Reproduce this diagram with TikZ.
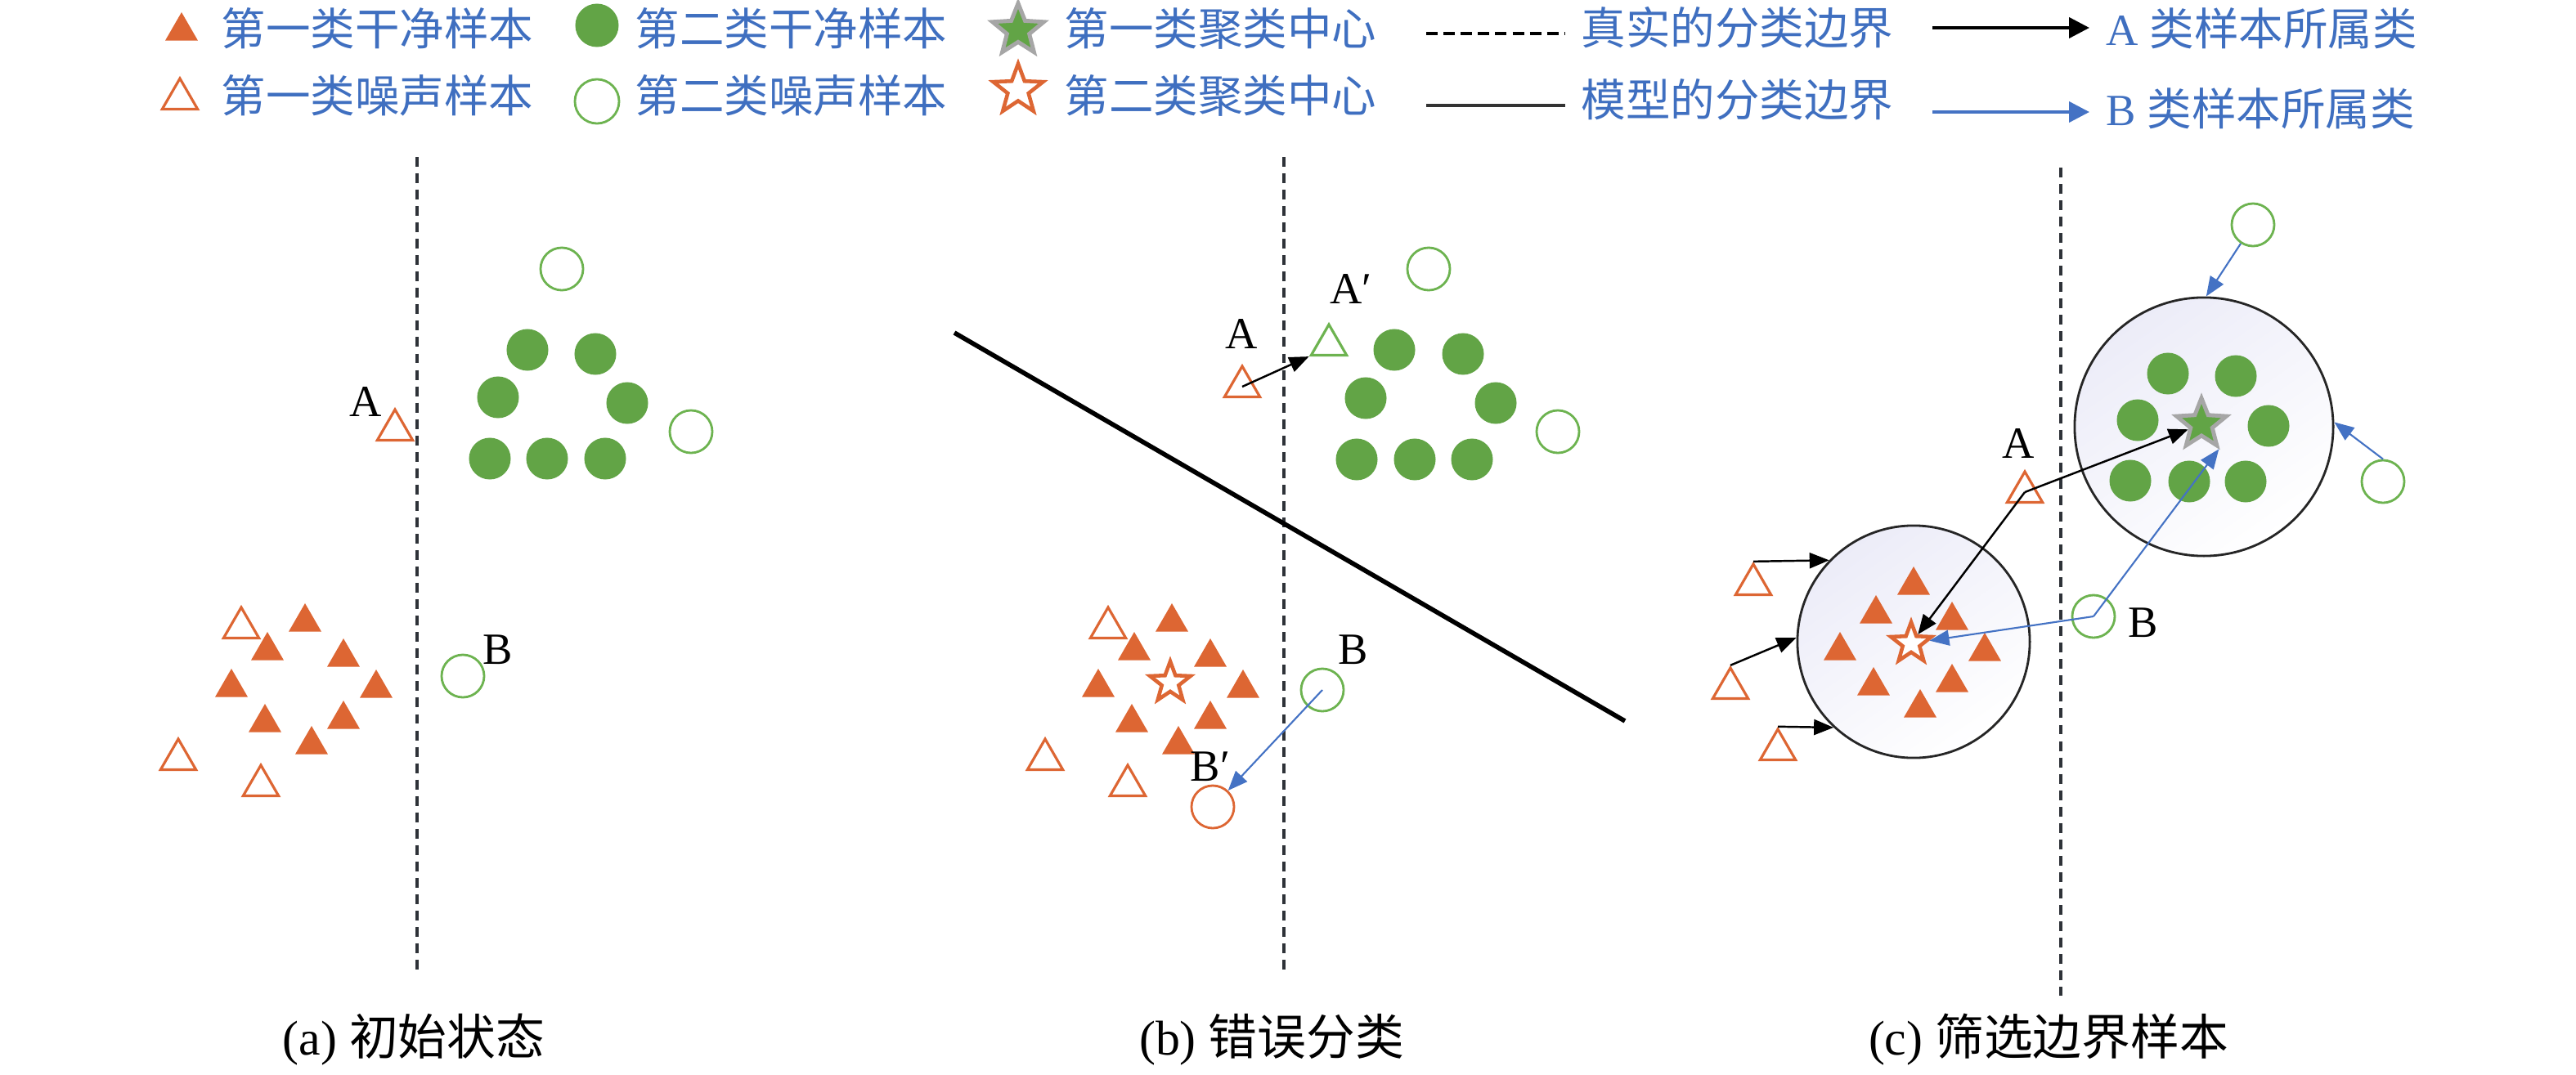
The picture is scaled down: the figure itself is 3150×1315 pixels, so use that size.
\documentclass[tikz,border=0pt]{standalone}
\usepackage{fontspec}
\setmainfont{Liberation Serif}
\newfontfamily\cjk{Noto Sans CJK SC}
\usetikzlibrary{shapes.geometric,arrows.meta}
\definecolor{orng}{HTML}{DD6633}
\definecolor{grn}{HTML}{62A446}
\definecolor{lgrn}{HTML}{6DB350}
\definecolor{bluA}{HTML}{4472C4}
\definecolor{txtblue}{HTML}{3F6FC0}
\definecolor{lav}{HTML}{ECECF8}
\definecolor{dashc}{HTML}{2E3238}
\begin{document}
\begin{tikzpicture}[x=0.01cm,y=-0.01cm,
  cleanA/.style={regular polygon,regular polygon sides=3,fill=orng,draw=none,minimum size=0.46cm,inner sep=0pt},
  noiseA/.style={regular polygon,regular polygon sides=3,draw=orng,fill=white,line width=0.9pt,minimum size=0.5cm,inner sep=0pt},
  noiseAg/.style={noiseA,draw=lgrn},
  cleanB/.style={circle,fill=grn,draw=none,minimum size=0.51cm,inner sep=0pt},
  noiseB/.style={circle,draw=lgrn,fill=white,line width=0.8pt,minimum size=0.52cm,inner sep=0pt},
  noiseBo/.style={noiseB,draw=orng},
  gstar/.style={star,star points=5,star point ratio=2.3,fill=grn,draw=gray!70,line width=1.4pt,minimum size=0.64cm,inner sep=0pt},
  ostar/.style={star,star points=5,star point ratio=2.4,fill=white,draw=orng,line width=1.3pt,minimum size=0.52cm,inner sep=0pt},
  bigc/.style={circle,draw=black!85,line width=0.8pt,top color=lav,bottom color=white,shading angle=35,inner sep=0pt},
  truebd/.style={dashc,line width=1.1pt,dash pattern=on 3.4pt off 2.3pt},
  modelbd/.style={black,line width=1.6pt},
  blkarrow/.style={-{Triangle[length=0.24cm,width=0.19cm]},line width=0.7pt,black},
  bluarrow/.style={-{Triangle[length=0.24cm,width=0.19cm]},line width=0.6pt,bluA},
  lgtext/.style={anchor=west,inner sep=0pt,text=txtblue,font=\fontsize{15.5}{18}\selectfont},
  lbl/.style={inner sep=0pt,font=\fontsize{15.5}{18}\selectfont},
  captext/.style={inner sep=0pt,font=\fontsize{17}{20}\selectfont}]
\useasboundingbox (0,0) rectangle (3150,1315);
\fill[white] (0,0) rectangle (3150,1315);

% ---------------- legend ----------------
\node[cleanA] (lg1) at (222,38) {};
\node[lgtext] (lt1) at (270,35) {\cjk 第一类干净样本};
\node[noiseA] (lg2) at (220,121) {};
\node[lgtext] (lt2) at (270,117) {\cjk 第一类噪声样本};
\node[cleanB,minimum size=0.53cm] (lg3) at (730,31) {};
\node[lgtext] (lt3) at (776,35) {\cjk 第二类干净样本};
\node[noiseB,minimum size=0.54cm] (lg4) at (730,124) {};
\node[lgtext] (lt4) at (776,117) {\cjk 第二类噪声样本};
\node[gstar,minimum size=0.66cm] (lg5) at (1245,37) {};
\node[lgtext] (lt5) at (1301,35) {\cjk 第一类聚类中心};
\node[ostar,minimum size=0.64cm] (lg6) at (1245,110) {};
\node[lgtext] (lt6) at (1301,117) {\cjk 第二类聚类中心};
\coordinate (ld1a) at (1744,41);
\coordinate (ld1b) at (1914,41);
\draw[black,line width=1.1pt,dash pattern=on 4pt off 2pt] (ld1a) -- (ld1b);
\node[lgtext] (lt7) at (1933,34) {\cjk 真实的分类边界};
\coordinate (ld2a) at (1744,129);
\coordinate (ld2b) at (1914,129);
\draw[black!80,line width=1.4pt] (ld2a) -- (ld2b);
\node[lgtext] (lt8) at (1933,122) {\cjk 模型的分类边界};
\coordinate (la1a) at (2363,34);
\coordinate (la1b) at (2555,34);
\draw[-{Triangle[length=0.25cm,width=0.25cm]},line width=1.2pt,black] (la1a) -- (la1b);
\node[lgtext] (lt9) at (2575,35) {A {\cjk 类样本所属类}};
\coordinate (la2a) at (2363,137);
\coordinate (la2b) at (2555,137);
\draw[-{Triangle[length=0.25cm,width=0.25cm]},line width=1.2pt,bluA] (la2a) -- (la2b);
\node[lgtext] (lt10) at (2575,133) {B {\cjk 类样本所属类}};

% ---------------- panel (a) ----------------
\coordinate (aTop) at (510,192);
\coordinate (aBot) at (510,1192);
\draw[truebd] (aTop) -- (aBot);
\node[noiseB] (an1) at (687,329) {};
\node[cleanB] (ac1) at (645,428) {};
\node[cleanB] (ac2) at (728,433) {};
\node[cleanB] (ac3) at (609,486) {};
\node[cleanB] (ac4) at (767,493) {};
\node[cleanB] (ac5) at (599,561) {};
\node[cleanB] (ac6) at (669,561) {};
\node[cleanB] (ac7) at (740,561) {};
\node[noiseB] (an2) at (845,528) {};
\node[noiseA] (aA) at (483,526) {};
\node[lbl] (aAl) at (447,492) {A};
\node[noiseB] (aB) at (566,827) {};
\node[lbl] (aBl) at (609,795) {B};
\node[noiseA] (ao1) at (295,768) {};
\node[noiseA] (ao2) at (218,929) {};
\node[noiseA] (ao3) at (319,961) {};
\node[cleanA] (at1) at (373,761) {};
\node[cleanA] (at2) at (327,796) {};
\node[cleanA] (at3) at (420,804) {};
\node[cleanA] (at4) at (283,841) {};
\node[cleanA] (at5) at (460,842) {};
\node[cleanA] (at6) at (324,884) {};
\node[cleanA] (at7) at (420,880) {};
\node[cleanA] (at8) at (381,911) {};
\node[captext] (capa) at (506,1272) {(a) {\cjk 初始状态}};

% ---------------- panel (b) ----------------
\coordinate (bTop) at (1570,192);
\coordinate (bBot) at (1570,1192);
\draw[truebd] (bTop) -- (bBot);
\coordinate (bl1) at (1167,407);
\coordinate (bl2) at (1987,882);
\draw[modelbd] (bl1) -- (bl2);
\node[noiseB] (bn1) at (1747,329) {};
\node[cleanB] (bc1) at (1705,428) {};
\node[cleanB] (bc2) at (1789,433) {};
\node[cleanB] (bc3) at (1670,487) {};
\node[cleanB] (bc4) at (1829,493) {};
\node[cleanB] (bc5) at (1659,562) {};
\node[cleanB] (bc6) at (1730,562) {};
\node[cleanB] (bc7) at (1800,562) {};
\node[noiseB] (bn2) at (1905,528) {};
\node[noiseAg] (bAp) at (1625,422) {};
\node[lbl] (bApl) at (1652,354) {A′};
\node[noiseA] (bA) at (1519,473) {};
\node[lbl] (bAl) at (1518,409) {A};
\draw[blkarrow] (bA.center) -- (bAp.corner 2);
\node[noiseA] (bo1) at (1355,768) {};
\node[noiseA] (bo2) at (1278,929) {};
\node[noiseA] (bo3) at (1379,961) {};
\node[cleanA] (bt1) at (1433,761) {};
\node[cleanA] (bt2) at (1387,796) {};
\node[cleanA] (bt3) at (1480,804) {};
\node[cleanA] (bt4) at (1343,841) {};
\node[cleanA] (bt5) at (1520,842) {};
\node[cleanA] (bt6) at (1384,884) {};
\node[cleanA] (bt7) at (1480,880) {};
\node[cleanA] (bt8) at (1441,911) {};
\node[ostar] (bs) at (1431,835) {};
\node[noiseB] (bB) at (1617,844) {};
\node[lbl] (bBl) at (1655,795) {B};
\node[noiseBo] (bBp) at (1483,987) {};
\node[lbl] (bBpl) at (1480,938) {B′};
\draw[bluarrow] (bB.center) -- (bBp);
\node[captext] (capb) at (1555,1272) {(b) {\cjk 错误分类}};

% ---------------- panel (c) ----------------
\coordinate (cTop) at (2520,205);
\coordinate (cBot) at (2520,1218);
\draw[truebd] (cTop) -- (cBot);
\node[bigc,minimum size=2.84cm] (cL) at (2340,785) {};
\node[bigc,minimum size=3.16cm] (cR) at (2695,522) {};
\node[cleanB] (cc1) at (2651,457) {};
\node[cleanB] (cc2) at (2734,460) {};
\node[cleanB] (cc3) at (2614,514) {};
\node[cleanB] (cc4) at (2774,521) {};
\node[cleanB] (cc5) at (2605,588) {};
\node[cleanB] (cc6) at (2677,589) {};
\node[cleanB] (cc7) at (2746,589) {};
\node[gstar] (cgs) at (2692,519) {};
\node[noiseB] (cn1) at (2755,275) {};
\node[noiseB] (cn2) at (2914,589) {};
\node[cleanA] (ct1) at (2340,716) {};
\node[cleanA] (ct2) at (2294,751) {};
\node[cleanA] (ct3) at (2387,759) {};
\node[cleanA] (ct4) at (2250,796) {};
\node[cleanA] (ct5) at (2427,797) {};
\node[cleanA] (ct6) at (2291,839) {};
\node[cleanA] (ct7) at (2387,835) {};
\node[cleanA] (ct8) at (2348,866) {};
\node[ostar] (cos) at (2337,787) {};
\node[noiseA] (co1) at (2144,715) {};
\node[noiseA] (co2) at (2116,842) {};
\node[noiseA] (co3) at (2174,917) {};
\node[noiseA] (cA) at (2476,602) {};
\node[lbl] (cAl) at (2468,543) {A};
\node[noiseB] (cB) at (2560,754) {};
\node[lbl] (cBl) at (2621,762) {B};
\draw[blkarrow] (co1.corner 1) -- (cL.136);
\draw[blkarrow] (co2.corner 1) -- (cL.178);
\draw[blkarrow] (co3.corner 1) -- (cL.227);
\draw[blkarrow] (cA.center) -- (cgs);
\draw[blkarrow] (cA.center) -- (cos);
\draw[bluarrow] (cB.center) -- (cgs.-55);
\draw[bluarrow] (cB.center) -- (cos);
\draw[bluarrow] (cn1) -- (cR.89);
\draw[bluarrow] (cn2.north) -- (cR.2);
\node[captext] (capc) at (2505,1272) {(c) {\cjk 筛选边界样本}};
\end{tikzpicture}
\end{document}
